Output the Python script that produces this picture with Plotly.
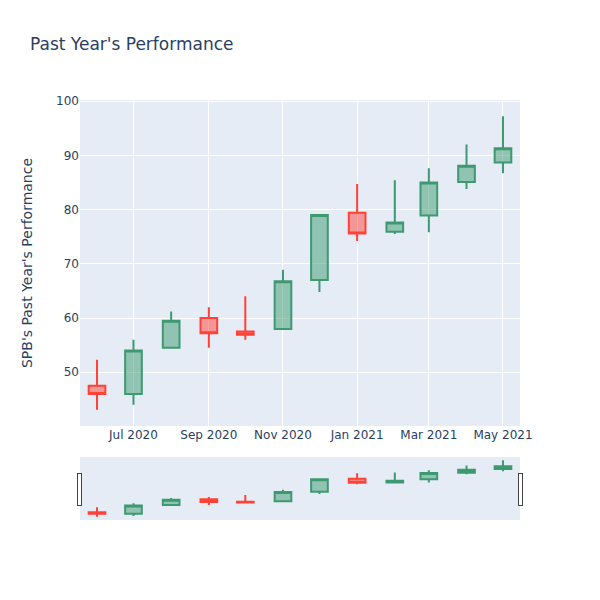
import plotly.graph_objects as go

# Monthly OHLC values
dates = ['2020-06-01', '2020-07-01', '2020-08-01', '2020-09-01', '2020-10-01', '2020-11-01',
         '2020-12-01', '2021-01-01', '2021-02-01', '2021-03-01', '2021-04-01', '2021-05-01']
opens = [47.5, 46.0, 54.5, 60.0, 57.5, 58.0, 67.0, 79.4, 75.9, 78.9, 85.1, 88.7]
highs = [52.3, 56.0, 61.2, 62.0, 64.0, 68.9, 79.1, 84.7, 85.4, 87.6, 92.0, 97.2]
lows = [43.1, 44.0, 54.5, 54.5, 56.0, 57.8, 64.8, 74.2, 75.5, 75.8, 83.8, 86.7]
closes = [46.0, 54.0, 59.5, 57.2, 56.9, 66.8, 79.0, 75.6, 77.6, 85.0, 88.1, 91.3]

fig = go.Figure(go.Candlestick(x=dates, open=opens, high=highs, low=lows, close=closes))

fig.update_layout(title="Past Year's Performance",
                  yaxis_title="SPB's Past Year's Performance",
                  font=dict(family="DejaVu Sans"),
                  width=600, height=600)
fig.update_yaxes(title_standoff=20)

# drop the page's default body margin so the figure sits at the window's corner
fig.write_html("out.html", config={'displayModeBar': False},
               post_script="document.body.style.margin='0';")
